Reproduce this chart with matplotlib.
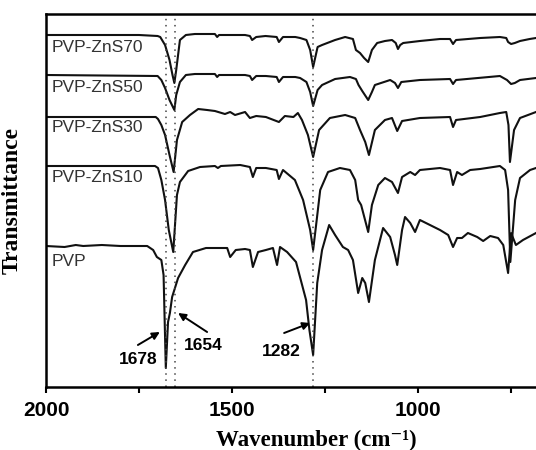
import numpy as np
import matplotlib.pyplot as plt
from matplotlib.ticker import MultipleLocator

# spettri FTIR (wavenumber in cm-1, trasmittanza in unita' arbitrarie, gia' traslate)

wn_70 = [2000, 1750, 1700, 1693, 1680, 1668, 1660, 1655, 1650, 1640, 1624, 1600, 1546, 1540,
         1535, 1500, 1465, 1452, 1446, 1435, 1410, 1380, 1374, 1363, 1330, 1317, 1300, 1290,
         1282, 1270, 1258, 1223, 1196, 1175, 1167, 1156, 1145, 1134, 1124, 1110, 1089, 1070,
         1060, 1054, 1048, 1040, 995, 941, 914, 906, 898, 833, 780, 763, 758, 750, 740, 726,
         700, 683]
t_70 = [352, 352, 351, 350, 342, 327, 312, 304, 317, 347, 352, 353, 353, 350,
        352, 352, 352, 351, 347, 350, 351, 350, 345, 350, 350, 349, 347, 337,
        320, 340, 342, 347, 350, 348, 337, 334, 329, 325, 337, 344, 346, 347,
        344, 338, 342, 344, 346, 348, 348, 343, 347, 349, 350, 349, 345, 343, 344, 346,
        348, 349]

wn_50 = [2000, 1700, 1690, 1680, 1668, 1655, 1650, 1640, 1624, 1600, 1546, 1540, 1535, 1465,
         1452, 1446, 1435, 1409, 1380, 1374, 1363, 1330, 1317, 1300, 1290, 1282, 1270, 1258,
         1223, 1183, 1167, 1160, 1150, 1134, 1124, 1116, 1075, 1062, 1054, 1045, 995, 914,
         906, 898, 780, 761, 750, 740, 726, 683]
t_50 = [312, 311, 307, 299, 287, 277, 292, 305, 312, 313, 313, 310, 312, 312,
        311, 307, 311, 311, 310, 305, 310, 310, 309, 305, 295, 281, 297, 302,
        308, 310, 308, 302, 296, 287, 295, 302, 307, 304, 299, 305, 307, 308,
        303, 307, 311, 307, 303, 304, 307, 309]

wn_30 = [2000, 1705, 1699, 1690, 1680, 1668, 1657, 1648, 1634, 1613, 1591, 1567, 1546, 1519,
         1505, 1492, 1465, 1452, 1435, 1409, 1374, 1358, 1335, 1323, 1312, 1296, 1282, 1266,
         1237, 1196, 1169, 1156, 1142, 1132, 1116, 1089, 1070, 1056, 1043, 995, 914, 906,
         898, 833, 780, 763, 757, 753, 742, 726, 683]
t_30 = [270, 270, 268, 262, 252, 232, 215, 247, 265, 272, 278, 277, 276, 273,
        275, 272, 275, 269, 271, 270, 265, 271, 270, 274, 267, 252, 230, 257,
        269, 272, 269, 257, 245, 232, 257, 267, 269, 256, 266, 269, 270, 260,
        267, 270, 274, 275, 262, 225, 257, 269, 275]

wn_10 = [2000, 1707, 1699, 1690, 1680, 1670, 1658, 1648, 1640, 1618, 1586, 1546, 1538, 1530,
         1478, 1452, 1444, 1435, 1409, 1380, 1374, 1363, 1331, 1309, 1290, 1282, 1274, 1263,
         1242, 1210, 1183, 1169, 1161, 1153, 1134, 1124, 1107, 1089, 1070, 1054, 1043, 1021,
         1008, 995, 941, 914, 906, 895, 882, 860, 833, 780, 766, 758, 752, 739, 726, 699, 683]
t_10 = [221, 221, 219, 207, 187, 157, 135, 192, 205, 216, 220, 221, 219, 221,
        222, 220, 210, 219, 219, 217, 208, 217, 207, 187, 157, 137, 162, 197,
        215, 219, 217, 207, 187, 182, 155, 182, 202, 209, 205, 194, 210, 215,
        212, 217, 219, 217, 202, 215, 212, 217, 218, 221, 217, 197, 125, 187, 209, 217, 219]

wn_pvp = [2000, 1950, 1920, 1900, 1850, 1800, 1728, 1712, 1702, 1690, 1684, 1678, 1672, 1667,
          1661, 1645, 1626, 1605, 1570, 1513, 1505, 1490, 1465, 1452, 1444, 1430, 1409, 1390,
          1379, 1371, 1352, 1328, 1301, 1292, 1282, 1271, 1258, 1239, 1223, 1202, 1188, 1175,
          1161, 1150, 1142, 1132, 1116, 1094, 1075, 1062, 1056, 1043, 1035, 1021, 1008, 995,
          968, 941, 919, 906, 895, 882, 866, 841, 825, 806, 785, 771, 758, 750, 737, 718, 683]
t_pvp = [141, 140, 142, 141, 142, 141, 141, 137, 130, 127, 112, 19, 65, 74,
         90, 109, 122, 135, 139, 139, 130, 137, 138, 137, 120, 135, 137, 139,
         122, 140, 135, 125, 87, 57, 32, 104, 137, 162, 152, 140, 137, 127,
         94, 109, 104, 85, 127, 159, 150, 132, 122, 157, 170, 164, 155, 167,
         162, 157, 152, 140, 149, 149, 154, 150, 146, 151, 149, 142, 114, 154, 142, 147, 154]

etichette = ['PVP-ZnS70', 'PVP-ZnS50', 'PVP-ZnS30', 'PVP-ZnS10', 'PVP']
y_etichette = [340, 299, 259, 209, 126]

picchi = [1678, 1654, 1282]

fig = plt.figure(figsize=(5.36, 4.5), dpi=100)
ax = fig.add_axes([46/536, 63/450, 490/536, 373/450])

for wn, t in [(wn_70, t_70), (wn_50, t_50), (wn_30, t_30), (wn_10, t_10), (wn_pvp, t_pvp)]:
    ax.plot(wn, t, color='#111111', lw=1.5, solid_joinstyle='round')

# linee tratteggiate sui picchi
for p in picchi:
    ax.axvline(p, color='#444444', lw=1.1, linestyle=(0, (1, 3)))

for lab, y in zip(etichette, y_etichette):
    ax.text(1984, y, lab, fontsize=12.5, family='Liberation Sans', color='#333333', va='center')

# frecce con i numeri d'onda
bold = dict(fontsize=12.5, family='Liberation Sans', fontweight='bold', ha='center', va='center')
freccia = dict(arrowstyle='-|>', color='black', lw=1.4, mutation_scale=11, shrinkA=0, shrinkB=0)
ax.text(1751, 27, '1678', **bold)
ax.annotate('', xy=(1694, 55), xytext=(1753, 42), arrowprops=freccia)
ax.text(1577, 41, '1654', **bold)
ax.annotate('', xy=(1645, 74), xytext=(1567, 55), arrowprops=freccia)
ax.text(1367, 36, '1282', **bold)
ax.annotate('', xy=(1290, 64), xytext=(1360, 54), arrowprops=freccia)

ax.set_xlim(2000, 683)
ax.set_ylim(0, 373)
ax.xaxis.set_major_locator(MultipleLocator(500))
ax.xaxis.set_minor_locator(MultipleLocator(250))
ax.set_yticks([])
ax.tick_params(axis='x', which='both', direction='out', length=4, width=1.5, pad=6)
for lbl in ax.get_xticklabels():
    lbl.set_fontfamily('Liberation Sans')
    lbl.set_fontweight('bold')
    lbl.set_fontsize(15)

for s in ['top', 'left', 'bottom']:
    ax.spines[s].set_linewidth(1.8)
ax.spines['right'].set_visible(False)

ax.set_xlabel('Wavenumber (cm\u207b\u00b9)', family=['Liberation Serif', 'DejaVu Serif'],
              fontweight='bold', fontsize=16.5)
ax.xaxis.set_label_coords(0.551, -0.115)
ax.set_ylabel('Transmittance', family='Liberation Serif', fontweight='bold', fontsize=17)
ax.yaxis.set_label_coords(-0.047, 0.5)

plt.savefig('out.png', dpi=100)
